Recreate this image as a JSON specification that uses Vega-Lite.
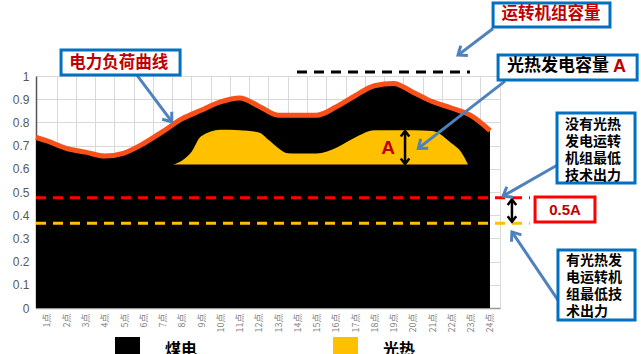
{
  "$schema": "https://vega.github.io/schema/vega-lite/v6.json",
  "width": 464,
  "height": 232,
  "autosize": {"type": "none"},
  "padding": {"left": 36, "top": 76, "right": 141, "bottom": 46},
  "background": "white",
  "config": {
    "view": {"stroke": null},
    "font": "Noto Sans CJK SC",
    "axis": {"title": null, "grid": true, "gridColor": "#d9d9d9", "gridWidth": 1, "ticks": false, "labelOverlap": false, "labelFlush": false, "labelBound": false},
    "axisX": {"labelAngle": -90, "labelFontSize": 9, "labelColor": "#7f7f7f", "labelFont": "Noto Sans CJK SC", "labelPadding": 5, "domainColor": "#9a9a9a", "domainWidth": 1.5},
    "axisY": {"labelFont": "Liberation Sans", "labelFontSize": 12, "labelColor": "#595959", "labelPadding": 7, "domainColor": "#555555", "domainWidth": 1.5}
  },
  "datasets": {
    "load": [
      {"hour": 0.43, "load": 0.735},
      {"hour": 1, "load": 0.72},
      {"hour": 2, "load": 0.688},
      {"hour": 3, "load": 0.672},
      {"hour": 4, "load": 0.655},
      {"hour": 5, "load": 0.668},
      {"hour": 6, "load": 0.708},
      {"hour": 7, "load": 0.76},
      {"hour": 8, "load": 0.815},
      {"hour": 9, "load": 0.852},
      {"hour": 10, "load": 0.888},
      {"hour": 11, "load": 0.905},
      {"hour": 12, "load": 0.87},
      {"hour": 13, "load": 0.831},
      {"hour": 14, "load": 0.831},
      {"hour": 15, "load": 0.831},
      {"hour": 16, "load": 0.866},
      {"hour": 17, "load": 0.915},
      {"hour": 18, "load": 0.958},
      {"hour": 19, "load": 0.968},
      {"hour": 20, "load": 0.93},
      {"hour": 21, "load": 0.89},
      {"hour": 22, "load": 0.862},
      {"hour": 23, "load": 0.83},
      {"hour": 24, "load": 0.765}
    ],
    "solar": [
      {"hour": 7.54, "top": 0.618},
      {"hour": 8, "top": 0.635},
      {"hour": 8.5, "top": 0.672},
      {"hour": 9, "top": 0.74},
      {"hour": 10, "top": 0.768},
      {"hour": 11, "top": 0.766},
      {"hour": 12, "top": 0.757},
      {"hour": 12.5, "top": 0.725},
      {"hour": 13, "top": 0.69},
      {"hour": 13.5, "top": 0.667},
      {"hour": 14, "top": 0.666},
      {"hour": 15, "top": 0.666},
      {"hour": 16, "top": 0.69},
      {"hour": 17, "top": 0.735},
      {"hour": 18, "top": 0.766},
      {"hour": 19, "top": 0.766},
      {"hour": 20, "top": 0.766},
      {"hour": 21, "top": 0.763},
      {"hour": 22, "top": 0.71},
      {"hour": 22.5, "top": 0.672},
      {"hour": 22.86, "top": 0.618}
    ]
  },
  "resolve": {"axis": {"x": "independent", "y": "independent"}},
  "layer": [
    {
      "data": {"name": "load"},
      "mark": {"type": "area", "color": "#000000", "interpolate": "monotone"},
      "encoding": {
        "x": {
          "field": "hour", "type": "quantitative", "title": null,
          "scale": {"domain": [0.43, 24.52], "nice": false, "zero": false},
          "axis": {
            "values": [1.5, 2.5, 3.5, 4.5, 5.5, 6.5, 7.5, 8.5, 9.5, 10.5, 11.5, 12.5, 13.5, 14.5, 15.5, 16.5, 17.5, 18.5, 19.5, 20.5, 21.5, 22.5, 23.5, 24.5],
            "labelExpr": "floor(datum.value) + '点'",
            "labelOffset": -9.63,
            "labelOverlap": false,
            "grid": true
          }
        },
        "y": {
          "field": "load", "type": "quantitative", "title": null, "stack": null,
          "scale": {"domain": [0, 1], "nice": false},
          "axis": {
            "values": [0, 0.1, 0.2, 0.3, 0.4, 0.5, 0.6, 0.7, 0.8, 0.9, 1],
            "format": ".1~f",
            "labelOverlap": false,
            "grid": true
          }
        },
        "color": {
          "datum": "煤电", "type": "nominal",
          "scale": {"domain": ["煤电", "光热"], "range": ["#000000", "#ffc000"]},
          "legend": {
            "orient": "none", "legendX": 79, "legendY": 261,
            "direction": "horizontal", "columns": 2,
            "symbolType": "square", "symbolSize": 625, "symbolStrokeWidth": 0,
            "labelFont": "Noto Sans CJK SC", "labelFontSize": 16, "labelFontWeight": "bold",
            "labelColor": "#000000", "labelOffset": 25, "columnPadding": 135,
            "title": null, "padding": 0
          }
        }
      }
    },
    {
      "data": {"name": "solar"},
      "mark": {"type": "area", "color": "#ffc000", "interpolate": "monotone"},
      "encoding": {
        "x": {"field": "hour", "type": "quantitative", "axis": null},
        "y": {"field": "top", "type": "quantitative", "axis": null},
        "y2": {"datum": 0.618},
        "color": {"datum": "光热", "type": "nominal"}
      }
    },
    {
      "data": {"name": "load"},
      "mark": {"type": "line", "color": "#f9501a", "strokeWidth": 5, "interpolate": "monotone"},
      "encoding": {
        "x": {"field": "hour", "type": "quantitative", "axis": null},
        "y": {"field": "load", "type": "quantitative", "axis": null}
      }
    },
    {
      "data": {"values": [{"level": "没有光热发电运转机组最低技术出力", "value": 0.475}]},
      "mark": {"type": "rule", "color": "#ff0000", "strokeWidth": 3, "strokeDash": [10, 7]},
      "encoding": {
        "x": {"datum": 0.43, "type": "quantitative", "axis": null},
        "x2": {"datum": 26.08},
        "y": {"field": "value", "type": "quantitative", "axis": null}
      }
    },
    {
      "data": {"values": [{"level": "有光热发电运转机组最低技术出力", "value": 0.365}]},
      "mark": {"type": "rule", "color": "#ffc000", "strokeWidth": 3, "strokeDash": [10, 7]},
      "encoding": {
        "x": {"datum": 0.43, "type": "quantitative", "axis": null},
        "x2": {"datum": 26.08},
        "y": {"field": "value", "type": "quantitative", "axis": null}
      }
    },
    {
      "data": {"values": [{"level": "运转机组容量", "value": 1.017}]},
      "mark": {"type": "rule", "color": "#000000", "strokeWidth": 3, "strokeDash": [10, 7]},
      "encoding": {
        "x": {"datum": 13.98, "type": "quantitative", "axis": null},
        "x2": {"datum": 22.96},
        "y": {"field": "value", "type": "quantitative", "axis": null}
      }
    },
    {
      "data": {"values": [{"note": "A"}]},
      "mark": {"type": "rule", "color": "#000000", "strokeWidth": 2.5},
      "encoding": {
        "x": {"datum": 19.59, "type": "quantitative", "axis": null},
        "y": {"datum": 0.763, "type": "quantitative", "axis": null},
        "y2": {"datum": 0.621}
      }
    },
    {
      "data": {"values": [{"note": "A"}]},
      "mark": {"type": "point", "shape": "M-0.7,0.9L0,0L0.7,0.9", "filled": false, "stroke": "#000000", "strokeWidth": 2.5, "size": 150, "opacity": 1},
      "encoding": {
        "x": {"datum": 19.59, "type": "quantitative", "axis": null},
        "y": {"datum": 0.763, "type": "quantitative", "axis": null}
      }
    },
    {
      "data": {"values": [{"note": "A"}]},
      "mark": {"type": "point", "shape": "M-0.7,0.9L0,0L0.7,0.9", "filled": false, "stroke": "#000000", "strokeWidth": 2.5, "size": 150, "angle": 180, "opacity": 1},
      "encoding": {
        "x": {"datum": 19.59, "type": "quantitative", "axis": null},
        "y": {"datum": 0.621, "type": "quantitative", "axis": null}
      }
    },
    {
      "data": {"values": [{"note": "A"}]},
      "mark": {"type": "text", "color": "#c00000", "font": "Liberation Sans", "fontWeight": "bold", "fontSize": 19, "align": "center", "baseline": "middle"},
      "encoding": {
        "x": {"datum": 18.71, "type": "quantitative", "axis": null},
        "y": {"datum": 0.69, "type": "quantitative", "axis": null},
        "text": {"field": "note"}
      }
    },
    {
      "data": {"values": [{"note": "0.5A"}]},
      "mark": {"type": "rule", "color": "#000000", "strokeWidth": 2.5},
      "encoding": {
        "x": {"datum": 25.14, "type": "quantitative", "axis": null},
        "y": {"datum": 0.468, "type": "quantitative", "axis": null},
        "y2": {"datum": 0.372}
      }
    },
    {
      "data": {"values": [{"note": "0.5A"}]},
      "mark": {"type": "point", "shape": "M-0.7,0.9L0,0L0.7,0.9", "filled": false, "stroke": "#000000", "strokeWidth": 2.5, "size": 150, "opacity": 1},
      "encoding": {
        "x": {"datum": 25.14, "type": "quantitative", "axis": null},
        "y": {"datum": 0.468, "type": "quantitative", "axis": null}
      }
    },
    {
      "data": {"values": [{"note": "0.5A"}]},
      "mark": {"type": "point", "shape": "M-0.7,0.9L0,0L0.7,0.9", "filled": false, "stroke": "#000000", "strokeWidth": 2.5, "size": 150, "angle": 180, "opacity": 1},
      "encoding": {
        "x": {"datum": 25.14, "type": "quantitative", "axis": null},
        "y": {"datum": 0.372, "type": "quantitative", "axis": null}
      }
    },
    {
      "data": {"values": [{"note": "电力负荷曲线"}]},
      "mark": {"type": "rule", "color": "#4f81bd", "strokeWidth": 3},
      "encoding": {
        "x": {"datum": 5.67, "type": "quantitative", "axis": null},
        "y": {"datum": 1.004, "type": "quantitative", "axis": null},
        "x2": {"datum": 7.48},
        "y2": {"datum": 0.803}
      }
    },
    {
      "data": {"values": [{"note": "电力负荷曲线"}]},
      "mark": {"type": "point", "shape": "M-0.7,0.9L0,0L0.7,0.9", "filled": false, "stroke": "#4f81bd", "strokeWidth": 3, "size": 300, "angle": 142, "opacity": 1},
      "encoding": {
        "x": {"datum": 7.48, "type": "quantitative", "axis": null},
        "y": {"datum": 0.803, "type": "quantitative", "axis": null}
      }
    },
    {
      "data": {"values": [{"note": "运转机组容量"}]},
      "mark": {"type": "rule", "color": "#4f81bd", "strokeWidth": 3},
      "encoding": {
        "x": {"datum": 24.16, "type": "quantitative", "axis": null},
        "y": {"datum": 1.205, "type": "quantitative", "axis": null},
        "x2": {"datum": 22.34},
        "y2": {"datum": 1.09}
      }
    },
    {
      "data": {"values": [{"note": "运转机组容量"}]},
      "mark": {"type": "point", "shape": "M-0.7,0.9L0,0L0.7,0.9", "filled": false, "stroke": "#4f81bd", "strokeWidth": 3, "size": 300, "angle": 234, "opacity": 1},
      "encoding": {
        "x": {"datum": 22.34, "type": "quantitative", "axis": null},
        "y": {"datum": 1.09, "type": "quantitative", "axis": null}
      }
    },
    {
      "data": {"values": [{"note": "光热发电容量"}]},
      "mark": {"type": "rule", "color": "#4f81bd", "strokeWidth": 3},
      "encoding": {
        "x": {"datum": 24.78, "type": "quantitative", "axis": null},
        "y": {"datum": 0.978, "type": "quantitative", "axis": null},
        "x2": {"datum": 20.28},
        "y2": {"datum": 0.688}
      }
    },
    {
      "data": {"values": [{"note": "光热发电容量"}]},
      "mark": {"type": "point", "shape": "M-0.7,0.9L0,0L0.7,0.9", "filled": false, "stroke": "#4f81bd", "strokeWidth": 3, "size": 300, "angle": 232, "opacity": 1},
      "encoding": {
        "x": {"datum": 20.28, "type": "quantitative", "axis": null},
        "y": {"datum": 0.688, "type": "quantitative", "axis": null}
      }
    },
    {
      "data": {"values": [{"note": "没有光热"}]},
      "mark": {"type": "rule", "color": "#4f81bd", "strokeWidth": 3},
      "encoding": {
        "x": {"datum": 27.48, "type": "quantitative", "axis": null},
        "y": {"datum": 0.615, "type": "quantitative", "axis": null},
        "x2": {"datum": 24.68},
        "y2": {"datum": 0.483}
      }
    },
    {
      "data": {"values": [{"note": "没有光热"}]},
      "mark": {"type": "point", "shape": "M-0.7,0.9L0,0L0.7,0.9", "filled": false, "stroke": "#4f81bd", "strokeWidth": 3, "size": 300, "angle": 240, "opacity": 1},
      "encoding": {
        "x": {"datum": 24.68, "type": "quantitative", "axis": null},
        "y": {"datum": 0.483, "type": "quantitative", "axis": null}
      }
    },
    {
      "data": {"values": [{"note": "有光热"}]},
      "mark": {"type": "rule", "color": "#4f81bd", "strokeWidth": 3},
      "encoding": {
        "x": {"datum": 27.53, "type": "quantitative", "axis": null},
        "y": {"datum": 0.034, "type": "quantitative", "axis": null},
        "x2": {"datum": 25.14},
        "y2": {"datum": 0.328}
      }
    },
    {
      "data": {"values": [{"note": "有光热"}]},
      "mark": {"type": "point", "shape": "M-0.7,0.9L0,0L0.7,0.9", "filled": false, "stroke": "#4f81bd", "strokeWidth": 3, "size": 300, "angle": 325, "opacity": 1},
      "encoding": {
        "x": {"datum": 25.14, "type": "quantitative", "axis": null},
        "y": {"datum": 0.328, "type": "quantitative", "axis": null}
      }
    },
    {
      "data": {"values": [{"note": "电力负荷曲线"}]},
      "mark": {"type": "rect", "fill": "#ffffff", "stroke": "#0070c0", "strokeWidth": 3},
      "encoding": {
        "x": {"datum": 1.73, "type": "quantitative", "axis": null},
        "x2": {"datum": 7.91},
        "y": {"datum": 1.112, "type": "quantitative", "axis": null},
        "y2": {"datum": 1.004}
      }
    },
    {
      "data": {"values": [{"note": "电力负荷曲线"}]},
      "mark": {"type": "text", "color": "#c00000", "fontWeight": "bold", "fontSize": 16.5, "align": "center", "baseline": "middle"},
      "encoding": {
        "x": {"datum": 4.72, "type": "quantitative", "axis": null},
        "y": {"datum": 1.058, "type": "quantitative", "axis": null},
        "text": {"field": "note"}
      }
    },
    {
      "data": {"values": [{"note": "运转机组容量"}]},
      "mark": {"type": "rect", "fill": "#ffffff", "stroke": "#0070c0", "strokeWidth": 3},
      "encoding": {
        "x": {"datum": 24.16, "type": "quantitative", "axis": null},
        "x2": {"datum": 30.23},
        "y": {"datum": 1.315, "type": "quantitative", "axis": null},
        "y2": {"datum": 1.211}
      }
    },
    {
      "data": {"values": [{"note": "运转机组容量"}]},
      "mark": {"type": "text", "color": "#c00000", "fontWeight": "bold", "fontSize": 16.5, "align": "center", "baseline": "middle"},
      "encoding": {
        "x": {"datum": 27.17, "type": "quantitative", "axis": null},
        "y": {"datum": 1.268, "type": "quantitative", "axis": null},
        "text": {"field": "note"}
      }
    },
    {
      "data": {"values": [{"note": "光热发电容量"}]},
      "mark": {"type": "rect", "fill": "#ffffff", "stroke": "#0070c0", "strokeWidth": 3},
      "encoding": {
        "x": {"datum": 24.42, "type": "quantitative", "axis": null},
        "x2": {"datum": 31.64},
        "y": {"datum": 1.091, "type": "quantitative", "axis": null},
        "y2": {"datum": 0.983}
      }
    },
    {
      "data": {"values": [{"note": "光热发电容量"}]},
      "mark": {"type": "text", "color": "#000000", "fontWeight": "bold", "fontSize": 17, "align": "left", "baseline": "middle"},
      "encoding": {
        "x": {"datum": 24.885, "type": "quantitative", "axis": null},
        "y": {"datum": 1.042, "type": "quantitative", "axis": null},
        "text": {"field": "note"}
      }
    },
    {
      "data": {"values": [{"note": "A"}]},
      "mark": {"type": "text", "color": "#c00000", "font": "Liberation Sans", "fontWeight": "bold", "fontSize": 18, "align": "left", "baseline": "middle"},
      "encoding": {
        "x": {"datum": 30.39, "type": "quantitative", "axis": null},
        "y": {"datum": 1.037, "type": "quantitative", "axis": null},
        "text": {"field": "note"}
      }
    },
    {
      "data": {"values": [{"note": "没有光热发电运转机组最低技术出力"}]},
      "mark": {"type": "rect", "fill": "#ffffff", "stroke": "#0070c0", "strokeWidth": 3},
      "encoding": {
        "x": {"datum": 27.48, "type": "quantitative", "axis": null},
        "x2": {"datum": 31.53},
        "y": {"datum": 0.841, "type": "quantitative", "axis": null},
        "y2": {"datum": 0.539}
      }
    },
    {
      "data": {"values": [{"note": "没有光热\n发电运转\n机组最低\n技术出力"}]},
      "mark": {"type": "text", "color": "#000000", "fontWeight": "bold", "fontSize": 14, "lineHeight": 16.8, "lineBreak": "\n", "align": "left", "baseline": "top"},
      "encoding": {
        "x": {"datum": 27.9, "type": "quantitative", "axis": null},
        "y": {"datum": 0.818, "type": "quantitative", "axis": null},
        "text": {"field": "note"}
      }
    },
    {
      "data": {"values": [{"note": "有光热发电运转机组最低技术出力"}]},
      "mark": {"type": "rect", "fill": "#ffffff", "stroke": "#0070c0", "strokeWidth": 3},
      "encoding": {
        "x": {"datum": 27.53, "type": "quantitative", "axis": null},
        "x2": {"datum": 31.53},
        "y": {"datum": 0.25, "type": "quantitative", "axis": null},
        "y2": {"datum": -0.052}
      }
    },
    {
      "data": {"values": [{"note": "有光热发\n电运转机\n组最低技\n术出力"}]},
      "mark": {"type": "text", "color": "#000000", "fontWeight": "bold", "fontSize": 14, "lineHeight": 16.8, "lineBreak": "\n", "align": "left", "baseline": "top"},
      "encoding": {
        "x": {"datum": 27.95, "type": "quantitative", "axis": null},
        "y": {"datum": 0.232, "type": "quantitative", "axis": null},
        "text": {"field": "note"}
      }
    },
    {
      "data": {"values": [{"note": "0.5A"}]},
      "mark": {"type": "rect", "fill": "#ffffff", "stroke": "#ff0000", "strokeWidth": 3},
      "encoding": {
        "x": {"datum": 26.34, "type": "quantitative", "axis": null},
        "x2": {"datum": 29.45},
        "y": {"datum": 0.478, "type": "quantitative", "axis": null},
        "y2": {"datum": 0.371}
      }
    },
    {
      "data": {"values": [{"note": "0.5A"}]},
      "mark": {"type": "text", "color": "#c00000", "font": "Liberation Sans", "fontWeight": "bold", "fontSize": 15, "align": "center", "baseline": "middle"},
      "encoding": {
        "x": {"datum": 27.9, "type": "quantitative", "axis": null},
        "y": {"datum": 0.422, "type": "quantitative", "axis": null},
        "text": {"field": "note"}
      }
    }
  ]
}
